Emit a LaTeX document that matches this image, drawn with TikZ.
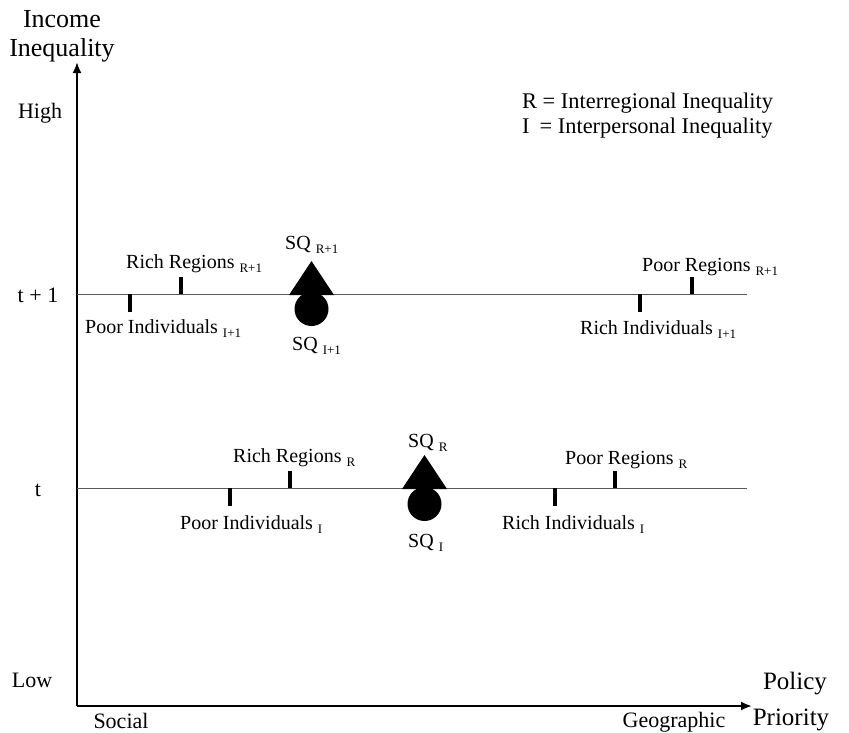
\documentclass[tikz,border=0pt]{standalone}
\usepackage{fontspec}
\setmainfont{Liberation Serif}
\usetikzlibrary{arrows.meta}
\newcommand{\sbs}[1]{\hspace{5pt}{\fontsize{13}{13}\selectfont\raisebox{-4pt}{#1}}}
\begin{document}
\begin{tikzpicture}[x=1pt,y=-1pt,
  lbl/.style={inner sep=0pt,anchor=base west,font=\fontsize{20}{22}\selectfont},
  axlbl/.style={inner sep=0pt,anchor=base,font=\fontsize{22}{24}\selectfont},
  ttl/.style={inner sep=0pt,anchor=base,font=\fontsize{26}{28}\selectfont},
  leg/.style={inner sep=0pt,anchor=base west,font=\fontsize{22.4}{24}\selectfont},
  axis/.style={line width=2pt,-{Latex[length=11pt,width=9pt]}},
  period/.style={line width=0.9pt,draw=black!65},
  tick/.style={line width=3.5pt},
  tri/.style={fill=black},
  dot/.style={fill=black}]
\useasboundingbox (0,0) rectangle (849,732);
% axes
\coordinate (O) at (77,706);
\coordinate (ytop) at (77,62);
\coordinate (xend) at (752,706);
\draw[axis] (O) -- (ytop);
\draw[axis] (O) -- (xend);
% period lines
\coordinate (l1) at (77,294); \coordinate (r1) at (747,294);
\coordinate (l0) at (77,488); \coordinate (r0) at (747,488);
\draw[period] (l1) -- (r1);
\draw[period] (l0) -- (r0);
% ticks t+1
\coordinate (pi1a) at (130,294); \coordinate (pi1b) at (130,312);
\coordinate (rr1a) at (181,294); \coordinate (rr1b) at (181,277);
\coordinate (ri1a) at (640,294); \coordinate (ri1b) at (640,312);
\coordinate (pr1a) at (692,294); \coordinate (pr1b) at (692,277);
\draw[tick] (pi1a) -- (pi1b);
\draw[tick] (rr1a) -- (rr1b);
\draw[tick] (ri1a) -- (ri1b);
\draw[tick] (pr1a) -- (pr1b);
% ticks t
\coordinate (pi0a) at (230,488); \coordinate (pi0b) at (230,506);
\coordinate (rr0a) at (290,488); \coordinate (rr0b) at (290,471);
\coordinate (ri0a) at (555,488); \coordinate (ri0b) at (555,506);
\coordinate (pr0a) at (615,488); \coordinate (pr0b) at (615,471);
\draw[tick] (pi0a) -- (pi0b);
\draw[tick] (rr0a) -- (rr0b);
\draw[tick] (ri0a) -- (ri0b);
\draw[tick] (pr0a) -- (pr0b);
% status quo markers
\fill[dot] (311.5,309) circle (17);
\fill[tri] (289,295) -- (311.5,261) -- (334,295) -- cycle;
\fill[dot] (424.5,504) circle (17);
\fill[tri] (402,489) -- (424.5,455) -- (447,489) -- cycle;
% axis labels
\node[ttl] (inc) at (62,27) {Income};
\node[ttl] (ineq) at (62,56) {Inequality};
\node[axlbl] (high) at (40,118) {High};
\node[axlbl] (tp1) at (38,302) {t + 1};
\node[axlbl] (tt) at (38,496) {t};
\node[axlbl] (low) at (32,687) {Low};
\node[axlbl] (soc) at (121,728) {Social};
\node[axlbl] (geo) at (674,727) {Geographic};
\node[ttl,font=\fontsize{25}{27}\selectfont] (pol) at (795,689) {Policy};
\node[ttl,font=\fontsize{25}{27}\selectfont] (pri) at (791,725) {Priority};
% legend
\node[leg] (legR) at (522,108) {R = Interregional Inequality};
\node[leg] (legI) at (522,133) {I\hspace{10pt}= Interpersonal Inequality};
% labels t+1
\node[lbl] (rrl1) at (126,268) {Rich Regions\sbs{R+1}};
\node[lbl] (pil1) at (85,333) {Poor Individuals\sbs{I+1}};
\node[lbl] (prl1) at (642,271) {Poor Regions\sbs{R+1}};
\node[lbl] (ril1) at (580,334) {Rich Individuals\sbs{I+1}};
\node[lbl] (sqr1) at (285,249) {SQ\sbs{R+1}};
\node[lbl] (sqi1) at (292,350) {SQ\sbs{I+1}};
% labels t
\node[lbl] (rrl0) at (233,462) {Rich Regions\sbs{R}};
\node[lbl] (pil0) at (180,529) {Poor Individuals\sbs{I}};
\node[lbl] (prl0) at (565,464) {Poor Regions\sbs{R}};
\node[lbl] (ril0) at (502,529) {Rich Individuals\sbs{I}};
\node[lbl] (sqr0) at (408,447) {SQ\sbs{R}};
\node[lbl] (sqi0) at (408,547) {SQ\sbs{I}};
\end{tikzpicture}
\end{document}
